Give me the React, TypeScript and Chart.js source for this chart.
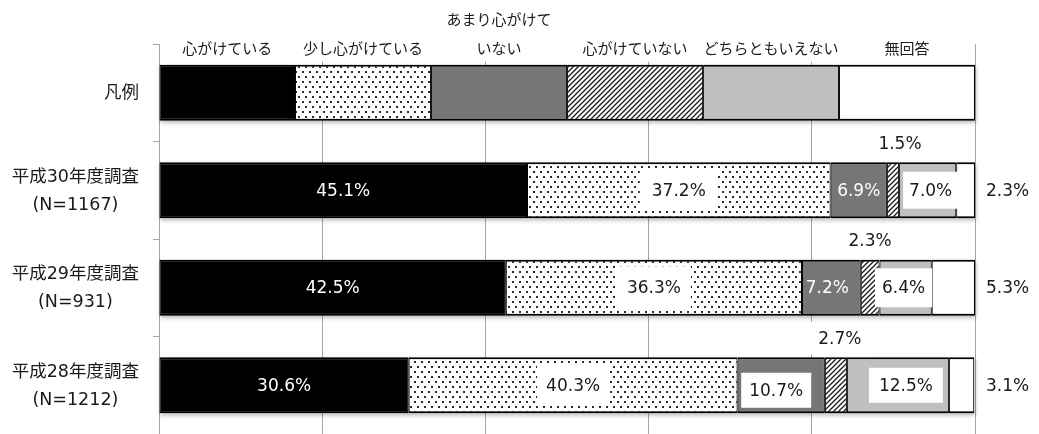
import React, { useEffect, useRef } from "react";
import { Chart, registerables } from "chart.js";
Chart.register(...registerables);

// ---- data ----
const categories: string[][] = [
  ["凡例"],
  ["平成30年度調査", "(N=1167)"],
  ["平成29年度調査", "(N=931)"],
  ["平成28年度調査", "(N=1212)"],
];
const seriesNames: string[][] = [
  ["心がけている"],
  ["少し心がけている"],
  ["あまり心がけて", "いない"],
  ["心がけていない"],
  ["どちらともいえない"],
  ["無回答"],
];
const legendRow = [16.67, 16.67, 16.67, 16.67, 16.66, 16.66];
const h30 = [45.1, 37.2, 6.9, 1.5, 7.0, 2.3];
const h29 = [42.5, 36.3, 7.2, 2.3, 6.4, 5.3];
const h28 = [30.6, 40.3, 10.7, 2.7, 12.5, 3.1];
const surveyRows = [h30, h29, h28];
const xStep = 20;

// ---- label styling (placement only) ----
type LP = { mode: "in" | "box" | "above" | "right"; color?: string; dx?: number; dy?: number; padX?: number; padY?: number };
const labelPlacement: LP[][] = [
  [
    { mode: "in", color: "#ffffff" },
    { mode: "box", padX: 12, padY: 12 },
    { mode: "in", color: "#ffffff" },
    { mode: "above", dx: 7 },
    { mode: "box", dx: 3, padX: 6, padY: 10 },
    { mode: "right" },
  ],
  [
    { mode: "in", color: "#ffffff" },
    { mode: "box", padX: 10, padY: 13 },
    { mode: "in", color: "#ffffff", dx: -4 },
    { mode: "above" },
    { mode: "box", dx: -2, padX: 7, padY: 11 },
    { mode: "right" },
  ],
  [
    { mode: "in", color: "#ffffff" },
    { mode: "box", padX: 9, padY: 11 },
    { mode: "box", dx: -5, dy: 5, padX: 8, padY: 9 },
    { mode: "above", dx: 4 },
    { mode: "box", dx: 8, padX: 10, padY: 9 },
    { mode: "right" },
  ],
];

const TEXT = "#1a1a1a";
const JP = '"Noto Sans CJK JP", "Noto Sans", sans-serif';
const MIX = '"DejaVu Sans", "Noto Sans CJK JP", sans-serif';
const NUM = '"DejaVu Sans", Verdana, sans-serif';

function makeDots(): CanvasPattern | string {
  const p = document.createElement("canvas");
  p.width = 7;
  p.height = 10;
  const c = p.getContext("2d");
  if (!c) return "#eee";
  c.fillStyle = "#ffffff";
  c.fillRect(0, 0, 7, 10);
  c.fillStyle = "#2a2a2a";
  c.fillRect(1, 1, 2, 2);
  c.fillRect(4, 6, 2, 2);
  return c.createPattern(p, "repeat") || "#eee";
}

function makeHatch(): CanvasPattern | string {
  const n = 5;
  const p = document.createElement("canvas");
  p.width = n;
  p.height = n;
  const c = p.getContext("2d");
  if (!c) return "#888";
  c.fillStyle = "#ffffff";
  c.fillRect(0, 0, n, n);
  c.strokeStyle = "#1a1a1a";
  c.lineWidth = 1.3;
  c.beginPath();
  c.moveTo(0, n);
  c.lineTo(n, 0);
  c.moveTo(-1, 1);
  c.lineTo(1, -1);
  c.moveTo(n - 1, n + 1);
  c.lineTo(n + 1, n - 1);
  c.stroke();
  return c.createPattern(p, "repeat") || "#888";
}

function drawText(ctx: CanvasRenderingContext2D, text: string, x: number, y: number, color: string, box: boolean, padX: number, padY: number, align: CanvasTextAlign = "center") {
  ctx.font = `17px ${NUM}`;
  const w = ctx.measureText(text).width;
  const h = 17;
  const left = align === "center" ? x - w / 2 : x;
  if (box) {
    ctx.fillStyle = "#ffffff";
    ctx.fillRect(left - padX, y - h / 2 - padY, w + padX * 2, h + padY * 2);
  }
  ctx.fillStyle = color;
  ctx.textAlign = align;
  ctx.textBaseline = "middle";
  ctx.fillText(text, x, y + 1);
}

const overlayPlugin = {
  id: "overlay",
  beforeDatasetsDraw(chart: any) {
    const ctx: CanvasRenderingContext2D = chart.ctx;
    const n = chart.data.labels.length;
    ctx.save();
    ctx.filter = "blur(2px)";
    ctx.fillStyle = "rgba(0,0,0,0.28)";
    for (let i = 0; i < n; i++) {
      let minX = Infinity, maxX = -Infinity, top = 0, h = 0;
      chart.data.datasets.forEach((_d: any, di: number) => {
        const el = chart.getDatasetMeta(di).data[i];
        if (!el) return;
        minX = Math.min(minX, el.base, el.x);
        maxX = Math.max(maxX, el.base, el.x);
        top = el.y - el.height / 2;
        h = el.height;
      });
      ctx.fillRect(minX + 1, top + 2, maxX - minX, h);
    }
    ctx.restore();
  },
  afterDatasetsDraw(chart: any) {
    const ctx: CanvasRenderingContext2D = chart.ctx;
    const area = chart.chartArea;
    ctx.save();

    // series names above the legend row
    ctx.font = `15px ${JP}`;
    ctx.textAlign = "center";
    ctx.textBaseline = "middle";
    seriesNames.forEach((lines, di) => {
      const el = chart.getDatasetMeta(di).data[0];
      const cx = (el.x + el.base) / 2;
      const top = el.y - el.height / 2;
      const lastY = top - 17;
      const firstY = lastY - 29 * (lines.length - 1);
      const wMax = Math.max(...lines.map((l) => ctx.measureText(l).width));
      ctx.fillStyle = "#ffffff";
      ctx.fillRect(cx - wMax / 2 - 4, firstY - 11, wMax + 8, lastY - firstY + 25);
      ctx.fillStyle = TEXT;
      lines.forEach((l, li) => ctx.fillText(l, cx, firstY + li * 29 + 1));
    });

    // data labels
    surveyRows.forEach((row, ri) => {
      const ci = ri + 1;
      row.forEach((v, di) => {
        const el = chart.getDatasetMeta(di).data[ci];
        const lp = labelPlacement[ri][di];
        const text = `${v.toFixed(1)}%`;
        const cx = (el.x + el.base) / 2 + (lp.dx || 0);
        const cy = el.y + (lp.dy || 0);
        const top = el.y - el.height / 2;
        if (lp.mode === "in") {
          drawText(ctx, text, cx, cy, lp.color || TEXT, false, 0, 0);
        } else if (lp.mode === "box") {
          drawText(ctx, text, cx, cy, lp.color || TEXT, true, lp.padX ?? 8, lp.padY ?? 10);
        } else if (lp.mode === "above") {
          drawText(ctx, text, cx, top - 19, TEXT, true, 8, 8);
        } else {
          drawText(ctx, text, area.right + 11, cy, TEXT, false, 0, 0, "left");
        }
      });
    });

    // category labels (right-aligned block, lines centered)
    const yScale = chart.scales.y;
    ctx.font = `17.5px ${MIX}`;
    ctx.textAlign = "center";
    ctx.textBaseline = "middle";
    ctx.fillStyle = TEXT;
    const blockRight = area.left - 20;
    categories.forEach((lines, i) => {
      const cy = yScale.getPixelForValue(i);
      const wMax = Math.max(...lines.map((l) => ctx.measureText(l).width));
      const cx = blockRight - wMax / 2;
      const startY = cy - ((lines.length - 1) * 28) / 2;
      lines.forEach((l, li) => ctx.fillText(l, cx, startY + li * 28 + 1));
    });
    ctx.restore();
  },
};

export default function App() {
  const ref = useRef<HTMLCanvasElement | null>(null);
  useEffect(() => {
    const canvas = ref.current;
    if (!canvas) return;
    const fills: (string | CanvasPattern)[] = ["#000000", makeDots(), "#767676", makeHatch(), "#bfbfbf", "#ffffff"];
    const datasets = seriesNames.map((name, di) => ({
      label: name.join(""),
      data: [legendRow[di], h30[di], h29[di], h28[di]],
      backgroundColor: fills[di] as any,
      borderColor: "#000000",
      borderWidth: { top: 2, bottom: 2, left: 1, right: 1 },
      borderSkipped: false as any,
      categoryPercentage: 1,
      barPercentage: 0.574,
    }));
    const chart = new Chart(canvas, {
      type: "bar",
      data: { labels: categories.map((c) => c.join(" ")), datasets },
      options: {
        indexAxis: "y",
        animation: false,
        responsive: false,
        devicePixelRatio: 1,
        layout: { padding: { top: 44, right: 64, left: 0, bottom: 0 } },
        scales: {
          x: {
            stacked: true,
            min: 0,
            max: 100,
            ticks: { display: false, stepSize: xStep },
            grid: { color: "#a6a6a6", lineWidth: 1, drawTicks: false },
            border: { display: false },
            afterFit: (s: any) => {
              s.height = 0;
            },
          },
          y: {
            stacked: true,
            ticks: { display: false },
            grid: { drawOnChartArea: false, drawTicks: true, tickLength: 6, color: "#a6a6a6" },
            border: { display: true, color: "#a6a6a6", width: 1 },
            afterFit: (s: any) => {
              s.width = 159;
            },
          },
        },
        plugins: { legend: { display: false }, tooltip: { enabled: false } },
      },
      plugins: [overlayPlugin],
    });
    return () => chart.destroy();
  }, []);
  return (
    <div style={{ position: "fixed", left: 0, top: 0, width: 1039, height: 434, background: "#ffffff" }}>
      <canvas ref={ref} width={1039} height={434} style={{ display: "block" }} />
    </div>
  );
}
